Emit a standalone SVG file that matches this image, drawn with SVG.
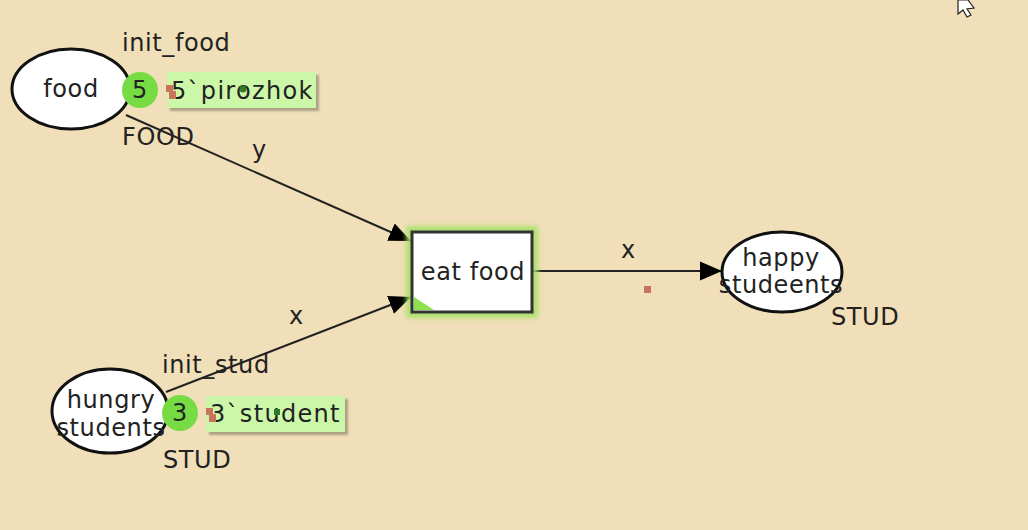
<svg xmlns="http://www.w3.org/2000/svg" width="1028" height="530" viewBox="0 0 1028 530">
<style>
text{font-family:"DejaVu Sans","Liberation Sans",sans-serif;font-size:24px;fill:#222;letter-spacing:0.6px}
.ml{letter-spacing:1.3px}
.place{fill:#fff;stroke:#111;stroke-width:3}
.tok{fill:#77dc44}
.mark{fill:#ccf7a8}
.shadow{fill:#000;opacity:0.28}
.arc{stroke:#222;stroke-width:2;fill:none}
.red{fill:#c8735a}
.dot{fill:#2f7a2a}
</style>
<defs>
<marker id="ah" markerUnits="userSpaceOnUse" markerWidth="24" markerHeight="22" refX="22" refY="11" orient="auto">
<path d="M0,1.5 L22,11 L0,20.5 Z" fill="#000"/>
</marker>
<filter id="blur" x="-20%" y="-20%" width="140%" height="140%"><feGaussianBlur stdDeviation="2.5"/></filter>
<filter id="sblur" x="-10%" y="-10%" width="130%" height="140%"><feGaussianBlur stdDeviation="1.2"/></filter>
</defs>
<rect width="1028" height="530" fill="#f0dfb8"/>

<g id="connectors">
<line class="arc" x1="126" y1="115" x2="411" y2="241" marker-end="url(#ah)"/>
<text x="252" y="158">y</text>
<line class="arc" x1="166" y1="392" x2="411" y2="297" marker-end="url(#ah)"/>
<text x="289" y="324">x</text>
<line class="arc" x1="533" y1="271" x2="722" y2="271" marker-end="url(#ah)" stroke="#5a5040" stroke-width="2.5"/>
<text x="621" y="258">x</text>
<rect class="red" x="644" y="286" width="7" height="7"/>
</g>

<g id="food">
<ellipse class="place" cx="71" cy="89" rx="59" ry="40"/>
<text x="71" y="97" text-anchor="middle">food</text>
<text x="122" y="51">init_food</text>
<text x="122" y="145">FOOD</text>
<circle class="tok" cx="140" cy="90" r="18"/>
<text x="140" y="98" text-anchor="middle">5</text>
<rect class="shadow" x="170" y="75" width="149" height="36" filter="url(#sblur)"/>
<rect class="mark" x="167" y="72" width="149" height="36"/>
<text class="ml" x="171" y="99">5`pirozhok</text>
<rect class="red" x="166" y="85" width="7" height="7"/>
<rect class="red" x="169" y="91" width="7" height="8"/>
<circle class="dot" cx="243" cy="89" r="3.5"/>
</g>

<g id="eat_food">
<rect x="410" y="230" width="124" height="84" fill="none" stroke="#a6e066" stroke-width="7" filter="url(#blur)"/>
<rect x="412" y="232" width="120" height="80" fill="#fff" stroke="#333" stroke-width="3"/>
<path d="M414,297 L414,310 L434,310 Z" fill="#8ee04c"/>
<text x="473" y="280" text-anchor="middle">eat food</text>
</g>

<g id="happy_students">
<ellipse class="place" cx="782" cy="272" rx="60" ry="40"/>
<text x="781" y="266" text-anchor="middle">happy</text>
<text x="781" y="293" text-anchor="middle">studeents</text>
<text x="831" y="325">STUD</text>
</g>

<g id="hungry_students">
<ellipse class="place" cx="110" cy="411" rx="58" ry="42"/>
<text x="111" y="408" text-anchor="middle">hungry</text>
<text x="111" y="436" text-anchor="middle">students</text>
<text x="162" y="373">init_stud</text>
<text x="163" y="468">STUD</text>
<circle class="tok" cx="180" cy="413" r="18"/>
<text x="180" y="421" text-anchor="middle">3</text>
<rect class="shadow" x="209" y="399" width="139" height="36" filter="url(#sblur)"/>
<rect class="mark" x="206" y="396" width="139" height="36"/>
<text class="ml" x="210" y="422">3`student</text>
<rect class="red" x="206" y="408" width="7" height="7"/>
<rect class="red" x="209" y="414" width="7" height="8"/>
<rect class="dot" x="274" y="409" width="6" height="6"/>
</g>

<path d="M958,0 L958,14 L963,10 L967,17 L971,15 L967,9 L974,8 L968,0 Z" fill="#fff" stroke="#222" stroke-width="1.2"/>
</svg>
